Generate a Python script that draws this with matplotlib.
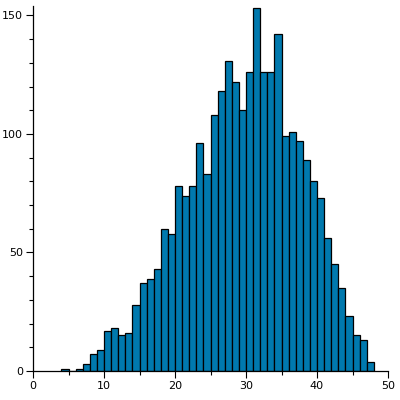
import matplotlib
matplotlib.use("Agg")
import matplotlib.pyplot as plt
from matplotlib.ticker import MultipleLocator

# histogram bins (left edges, width 1) and counts
bin_left = list(range(4, 48))
counts = [1, 0, 1, 3, 7, 9, 17, 18, 15, 16,
          28, 37, 39, 43, 60, 58, 78, 74, 78, 96,
          83, 108, 118, 131, 122, 110, 126, 153, 126, 126,
          142, 99, 101, 97, 89, 80, 73, 56, 45, 35,
          23, 15, 13, 4]

fig = plt.figure(figsize=(4, 4), dpi=100)
ax = fig.add_axes([0.0825, 0.0725, 0.8875, 0.9125])

ax.bar(bin_left, counts, width=1, align='edge', color='#0079ae',
       edgecolor='black', linewidth=0.9)

ax.set_xlim(0, 50)
ax.set_ylim(0, 154)

ax.spines['top'].set_visible(False)
ax.spines['right'].set_visible(False)
ax.spines['left'].set_linewidth(0.9)
ax.spines['bottom'].set_linewidth(0.9)

ax.xaxis.set_major_locator(MultipleLocator(10))
ax.xaxis.set_minor_locator(MultipleLocator(5))
ax.yaxis.set_major_locator(MultipleLocator(50))
ax.yaxis.set_minor_locator(MultipleLocator(10))
ax.tick_params(which='major', length=5, width=0.8, labelsize=8, pad=2)
ax.tick_params(which='minor', length=3, width=0.8)

plt.savefig("out.png", dpi=100)
